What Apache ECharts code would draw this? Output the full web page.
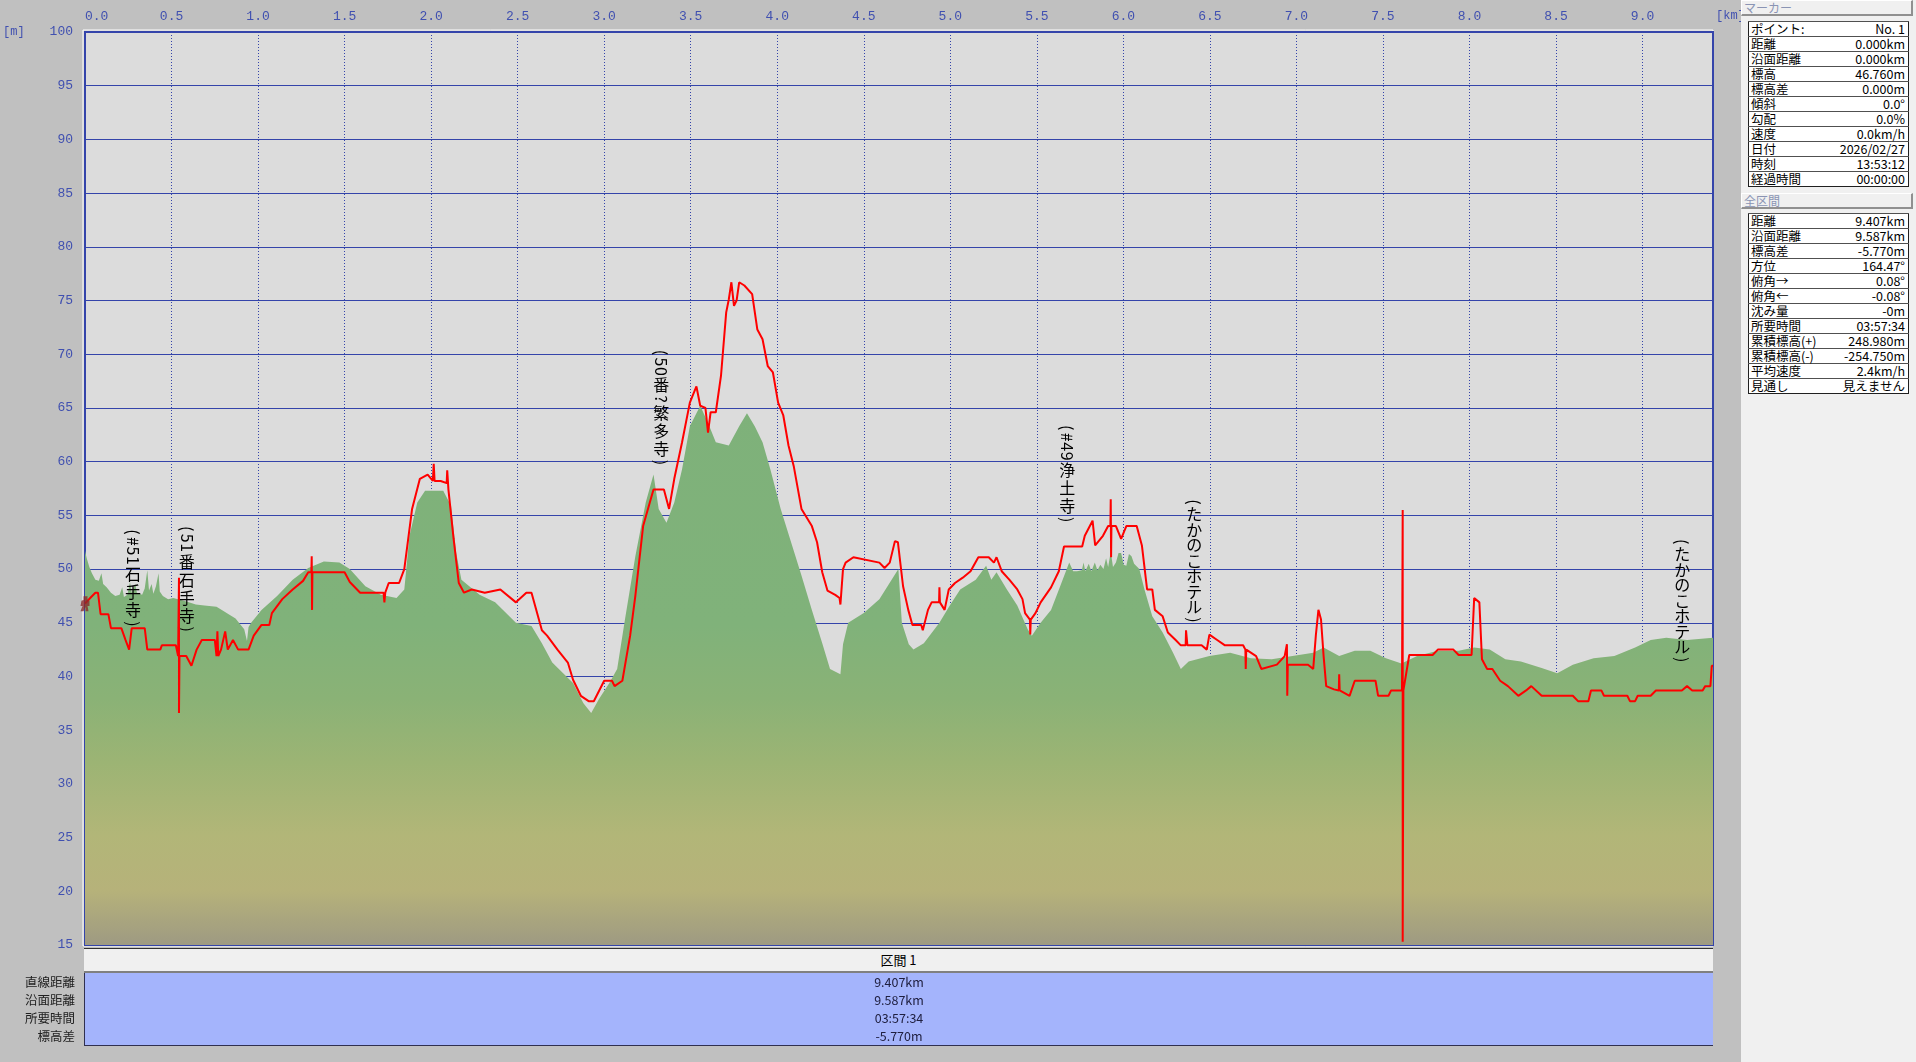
<!DOCTYPE html>
<html><head><meta charset="utf-8">
<script src="https://cdn.jsdelivr.net/npm/echarts@6/dist/echarts.min.js"></script>
<style>
html,body{margin:0;padding:0;width:1916px;height:1062px;overflow:hidden;background:#c0c0c0;font-family:"Noto Sans CJK JP",sans-serif;}
#chart{position:absolute;left:0;top:0;width:1916px;height:1062px;}
.abs{position:absolute;box-sizing:border-box;}
#panel{left:1741px;top:0;width:175px;height:1062px;background:#f0f0f0;}
.hdr{left:1741px;width:172px;height:16px;background:#f0f0f0;border-left:1px solid #fff;border-top:1px solid #fff;border-right:2px solid #909090;border-bottom:2px solid #909090;color:#8a94b4;font-size:12px;line-height:13px;padding-left:2px;}
table.info{position:absolute;left:1748px;width:161px;border-collapse:collapse;border:1px solid #202020;font-size:12.5px;background:#fff;}
table.info td{height:14px;padding:0 3px 0 2px;line-height:14px;border-top:1px solid #505050;white-space:nowrap;color:#000;}
table.info td.v{text-align:right;}
#bhdr{left:84px;top:948px;width:1629px;height:25px;background:#f0f0f0;border-top:1px solid #303030;border-bottom:2px solid #808080;text-align:center;font-size:13px;line-height:22px;color:#000;}
#bbody{left:84px;top:973px;width:1629px;height:73px;background:#a4b4fc;border-left:1px solid #303050;border-bottom:1px solid #303050;}
.brow{position:absolute;left:0;width:100%;height:18px;line-height:18px;text-align:center;font-size:12.5px;color:#202040;}
.lrow{position:absolute;left:0;width:75px;height:18px;line-height:18px;text-align:right;font-size:12.5px;color:#202020;}
</style>
</head><body>
<div id="chart"></div>
<div id="panel" class="abs"></div>
<div class="abs hdr" style="top:0px;">マーカー</div>
<table class="info" id="t1" style="top:21px;"></table>
<div class="abs hdr" style="top:193px;">全区間</div>
<table class="info" id="t2" style="top:213px;"></table>
<div id="bhdr" class="abs">区間 1</div>
<div id="bbody" class="abs"></div>
<div id="blabels"></div>
<script>
// ---- data ----
const xTicks = [0, 0.5, 1.0, 1.5, 2.0, 2.5, 3.0, 3.5, 4.0, 4.5, 5.0, 5.5, 6.0, 6.5, 7.0, 7.5, 8.0, 8.5, 9.0];
const xMaxKm = 9.407;
const yMin = 15, yMax = 100, yStep = 5;

// terrain (DEM) profile [km, m]
const terrainPoints = [[0.000,51.7],[0.010,51.0],[0.025,50.2],[0.040,49.6],[0.060,49.0],[0.080,48.9],[0.095,49.6],[0.105,48.6],[0.125,48.3],[0.150,47.8],[0.175,47.5],[0.200,47.6],[0.215,48.3],[0.225,47.4],[0.245,47.6],[0.260,48.8],[0.270,47.8],[0.290,48.6],[0.300,47.8],[0.330,47.6],[0.345,48.2],[0.360,49.9],[0.370,48.0],[0.385,48.6],[0.395,47.7],[0.410,48.4],[0.425,49.6],[0.432,47.9],[0.450,47.5],[0.480,47.2],[0.510,47.3],[0.560,47.1],[0.600,46.9],[0.640,46.7],[0.690,46.6],[0.760,46.5],[0.800,46.1],[0.830,45.8],[0.870,45.4],[0.900,44.8],[0.920,44.4],[0.936,43.3],[0.945,44.6],[0.960,45.0],[1.020,46.2],[1.110,47.5],[1.200,49.0],[1.290,50.1],[1.380,50.7],[1.470,50.6],[1.530,50.0],[1.620,48.4],[1.710,47.6],[1.800,47.3],[1.845,48.1],[1.875,53.1],[1.920,56.2],[1.965,57.3],[2.070,57.3],[2.115,55.9],[2.145,51.5],[2.175,49.0],[2.280,47.6],[2.370,46.9],[2.490,45.0],[2.580,44.7],[2.640,43.1],[2.700,41.3],[2.820,39.4],[2.880,37.5],[2.925,36.6],[2.970,37.9],[3.030,39.4],[3.075,40.7],[3.120,45.3],[3.180,51.2],[3.240,56.2],[3.285,58.8],[3.315,55.6],[3.360,54.3],[3.405,56.2],[3.450,59.3],[3.495,63.3],[3.555,65.2],[3.600,63.6],[3.645,61.8],[3.720,61.5],[3.780,63.3],[3.825,64.5],[3.870,63.3],[3.915,61.8],[3.960,59.3],[4.020,55.6],[4.080,52.5],[4.140,49.4],[4.200,46.2],[4.260,43.1],[4.305,40.7],[4.365,40.2],[4.380,43.0],[4.410,45.0],[4.500,45.9],[4.590,47.2],[4.680,49.5],[4.700,50.0],[4.720,45.0],[4.760,43.0],[4.787,42.5],[4.847,43.1],[4.937,45.0],[4.997,46.6],[5.057,48.1],[5.147,49.0],[5.207,50.3],[5.237,49.0],[5.267,49.7],[5.327,48.1],[5.387,46.6],[5.447,44.4],[5.471,43.8],[5.522,45.0],[5.582,46.2],[5.642,48.7],[5.687,50.6],[5.710,49.8],[5.732,49.8],[5.760,49.9],[5.770,50.6],[5.780,49.8],[5.800,50.5],[5.815,49.8],[5.835,50.6],[5.850,49.9],[5.867,50.4],[5.885,50.0],[5.900,51.0],[5.912,50.2],[5.927,51.6],[5.940,50.2],[5.957,50.6],[5.972,51.5],[5.987,51.5],[6.002,50.4],[6.017,50.3],[6.032,51.4],[6.047,51.2],[6.062,50.5],[6.092,50.0],[6.122,48.1],[6.167,45.6],[6.227,44.1],[6.287,42.2],[6.332,40.7],[6.377,41.4],[6.497,41.9],[6.617,42.2],[6.737,41.7],[6.857,41.6],[6.977,41.9],[7.097,42.2],[7.157,42.7],[7.247,41.9],[7.337,42.4],[7.427,42.4],[7.517,41.7],[7.607,41.2],[7.697,41.9],[7.817,42.4],[7.937,42.4],[8.027,42.7],[8.117,42.5],[8.207,41.6],[8.297,41.4],[8.417,40.8],[8.507,40.3],[8.597,41.1],[8.717,41.7],[8.837,41.9],[8.957,42.7],[9.047,43.4],[9.137,43.6],[9.257,43.4],[9.407,43.6]];

// GPS track elevation [km, m]
const trackPoints = [[0.000,46.8],[0.030,47.3],[0.060,47.8],[0.075,47.8],[0.090,45.8],[0.135,45.8],[0.150,44.5],[0.210,44.5],[0.234,43.4],[0.255,42.5],[0.270,44.5],[0.345,44.5],[0.360,42.5],[0.435,42.5],[0.444,42.9],[0.525,42.9],[0.538,41.9],[0.543,49.2],[0.543,36.6],[0.546,41.9],[0.585,41.9],[0.615,41.0],[0.645,42.5],[0.675,43.4],[0.750,43.4],[0.760,41.9],[0.765,44.2],[0.770,41.9],[0.786,42.5],[0.810,44.2],[0.825,42.5],[0.855,43.4],[0.885,42.5],[0.945,42.5],[0.975,43.8],[1.020,44.8],[1.065,44.8],[1.080,45.9],[1.140,47.2],[1.200,48.1],[1.260,48.9],[1.290,49.7],[1.308,49.7],[1.310,51.2],[1.312,46.2],[1.314,49.7],[1.500,49.7],[1.530,48.8],[1.590,47.8],[1.725,47.8],[1.730,46.9],[1.735,47.8],[1.755,48.7],[1.815,48.7],[1.845,50.0],[1.890,55.6],[1.935,58.4],[1.980,58.8],[2.010,58.2],[2.015,59.8],[2.020,58.2],[2.055,58.2],[2.090,58.0],[2.093,59.2],[2.100,57.4],[2.130,52.8],[2.160,48.7],[2.190,47.8],[2.235,48.1],[2.310,47.8],[2.400,48.1],[2.490,46.9],[2.550,47.8],[2.580,47.8],[2.640,44.3],[2.670,43.8],[2.730,42.5],[2.790,41.3],[2.820,39.7],[2.865,38.2],[2.910,37.7],[2.940,37.7],[3.000,39.6],[3.045,39.6],[3.060,39.1],[3.105,39.6],[3.150,43.8],[3.180,47.5],[3.225,54.0],[3.285,57.4],[3.345,57.4],[3.375,55.6],[3.405,58.4],[3.450,61.8],[3.495,65.5],[3.510,66.1],[3.533,67.0],[3.555,65.2],[3.585,65.0],[3.600,62.7],[3.615,64.6],[3.645,64.6],[3.675,68.0],[3.705,73.9],[3.720,75.1],[3.735,76.7],[3.750,74.5],[3.765,75.0],[3.780,76.7],[3.810,76.4],[3.855,75.6],[3.885,72.3],[3.915,71.4],[3.945,68.9],[3.975,68.3],[4.005,65.5],[4.035,64.3],[4.065,61.5],[4.095,59.6],[4.140,55.6],[4.200,54.0],[4.230,52.5],[4.260,49.7],[4.290,48.0],[4.335,47.6],[4.360,47.3],[4.365,46.7],[4.380,50.0],[4.395,50.6],[4.440,51.1],[4.590,50.6],[4.620,50.1],[4.650,50.6],[4.680,52.6],[4.697,52.5],[4.727,48.4],[4.757,46.2],[4.781,44.8],[4.832,44.8],[4.841,44.3],[4.871,46.2],[4.892,46.9],[4.935,46.9],[4.937,48.3],[4.940,46.9],[4.967,46.2],[4.991,48.1],[5.027,48.7],[5.072,49.2],[5.117,49.8],[5.162,51.1],[5.222,51.1],[5.252,50.6],[5.267,51.1],[5.297,49.8],[5.342,49.0],[5.387,48.1],[5.417,47.2],[5.432,45.9],[5.460,45.3],[5.462,43.9],[5.465,45.3],[5.492,45.9],[5.522,46.9],[5.582,48.3],[5.627,49.8],[5.657,52.1],[5.762,52.1],[5.777,53.1],[5.822,54.5],[5.837,52.2],[5.882,53.1],[5.912,54.0],[5.925,54.0],[5.927,56.5],[5.929,51.1],[5.931,54.0],[5.957,54.0],[5.987,52.8],[6.017,54.0],[6.077,54.0],[6.107,52.2],[6.137,48.1],[6.167,48.1],[6.182,46.2],[6.227,45.6],[6.257,44.1],[6.302,43.4],[6.332,42.9],[6.360,42.9],[6.362,44.3],[6.370,42.9],[6.452,42.9],[6.482,42.5],[6.497,43.9],[6.542,43.4],[6.587,42.9],[6.692,42.9],[6.705,42.5],[6.707,40.7],[6.710,42.5],[6.767,41.9],[6.797,40.7],[6.887,41.1],[6.932,41.9],[6.945,43.0],[6.947,38.2],[6.950,41.1],[6.977,41.1],[7.067,41.1],[7.097,40.7],[7.112,43.8],[7.127,46.2],[7.142,45.3],[7.157,41.9],[7.172,39.1],[7.217,38.8],[7.245,38.7],[7.247,40.2],[7.250,38.7],[7.307,38.2],[7.337,39.6],[7.457,39.6],[7.472,38.2],[7.532,38.2],[7.547,38.7],[7.610,38.7],[7.614,55.5],[7.614,15.3],[7.618,38.7],[7.652,42.0],[7.787,42.0],[7.817,42.5],[7.907,42.5],[7.937,42.0],[8.012,42.0],[8.027,47.3],[8.057,46.9],[8.072,41.6],[8.102,40.7],[8.132,40.7],[8.177,39.6],[8.222,39.1],[8.282,38.2],[8.327,38.7],[8.357,39.1],[8.417,38.2],[8.597,38.2],[8.627,37.7],[8.687,37.7],[8.702,38.7],[8.762,38.7],[8.777,38.2],[8.912,38.2],[8.927,37.7],[8.957,37.7],[8.972,38.2],[9.047,38.2],[9.077,38.7],[9.227,38.7],[9.257,39.1],[9.287,38.7],[9.347,38.7],[9.362,39.1],[9.392,39.1],[9.400,41.0],[9.407,41.0]];

// waypoint annotations
const annoKm   = [0.277, 0.588, 3.33, 5.675, 6.41, 9.23];
const annoTopM = [53.9, 54.2, 70.6, 63.6, 56.7, 53.0];
const annoText = ['(#51石手寺)', '(51番石手寺)', '(50番?繁多寺)', '(#49浄土寺)', '(たかのこホテル)', '(たかのこホテル)'];

// marker position (point No.1)
const markerKm = [0.0];
const markerM = [46.76];

// side panel tables
const markerLabels = ['ポイント:', '距離', '沿面距離', '標高', '標高差', '傾斜', '勾配', '速度', '日付', '時刻', '経過時間'];
const markerValues = ['No. 1', '0.000km', '0.000km', '46.760m', '0.000m', '0.0°', '0.0%', '0.0km/h', '2026/02/27', '13:53:12', '00:00:00'];
const totalLabels = ['距離', '沿面距離', '標高差', '方位', '俯角→', '俯角←', '沈み量', '所要時間', '累積標高(+)', '累積標高(-)', '平均速度', '見通し'];
const totalValues = ['9.407km', '9.587km', '-5.770m', '164.47°', '0.08°', '-0.08°', '-0m', '03:57:34', '248.980m', '-254.750m', '2.4km/h', '見えません'];

// bottom section table
const sectionTitle = '区間 1';
const sectionLabels = ['直線距離', '沿面距離', '所要時間', '標高差'];
const sectionValues = ['9.407km', '9.587km', '03:57:34', '-5.770m'];

// ---- HTML tables ----
function fillTable(id, labels, values) {
  const t = document.getElementById(id);
  t.innerHTML = labels.map((l, i) => '<tr><td>' + l + '</td><td class="v">' + values[i] + '</td></tr>').join('');
}
fillTable('t1', markerLabels, markerValues);
fillTable('t2', totalLabels, totalValues);
const bb = document.getElementById('bbody');
bb.innerHTML = sectionValues.map((v, i) => '<div class="brow" style="top:' + (i * 18) + 'px">' + v + '</div>').join('');
const bl = document.getElementById('blabels');
bl.innerHTML = sectionLabels.map((v, i) => '<div class="lrow" style="top:' + (973 + i * 18) + 'px">' + v + '</div>').join('');
document.getElementById('bhdr').textContent = sectionTitle;

// ---- chart ----
const chart = echarts.init(document.getElementById('chart'), null, { renderer: 'canvas' });
const blue = '#3444aa';
const labelBlue = '#4050b0';
const GL = 85, GT = 32, GR = 1713, GB = 945;

const areaGrad = new echarts.graphic.LinearGradient(0, GT, 0, GB, [
  { offset: 0.0, color: '#7bb07a' },
  { offset: 0.65, color: '#80b27a' },
  { offset: 0.73, color: '#8ab276' },
  { offset: 0.80, color: '#9cb474' },
  { offset: 0.88, color: '#b2b678' },
  { offset: 0.94, color: '#b6b27a' },
  { offset: 1.0, color: '#9e9a82' }
], true);

function renderAnno(params, api) {
  const i = params.dataIndex;
  const p = api.coord([api.value(0), api.value(1)]);
  const text = annoText[i];
  let y = p[1];
  const children = [];
  for (const ch of text) {
    const half = /[\x20-\x7e]/.test(ch);
    const kana = /[\u3040-\u30ff]/.test(ch);
    const adv = half ? 9.5 : (kana ? 15.5 : 18);
    children.push({
      type: 'text',
      x: p[0], y: y + adv / 2,
      rotation: half ? -Math.PI / 2 : 0,
      style: { text: ch, fill: '#000', font: '16px "Noto Sans CJK JP"', align: 'center', verticalAlign: 'middle' }
    });
    y += adv;
  }
  return { type: 'group', children };
}

chart.setOption({
  animation: false,
  backgroundColor: '#c0c0c0',
  grid: { left: GL, top: GT, right: 1916 - GR, bottom: 1062 - GB, show: true, backgroundColor: '#dcdcdc', borderColor: blue, borderWidth: 2 },
  xAxis: {
    type: 'value', position: 'top', min: 0, max: xMaxKm, interval: 0.5,
    axisLine: { show: false }, axisTick: { show: false },
    axisLabel: { color: labelBlue, fontSize: 13, fontFamily: 'Liberation Mono', margin: 9, showMaxLabel: false, alignMinLabel: 'left',
      formatter: v => xTicks.some(t => Math.abs(t - v) < 1e-6) ? v.toFixed(1) : '' },
    splitLine: { show: true, lineStyle: { color: blue, width: 1, type: [1, 2] } }
  },
  yAxis: {
    type: 'value', min: yMin, max: yMax, interval: yStep,
    axisLine: { show: false }, axisTick: { show: false },
    axisLabel: { color: labelBlue, fontSize: 13, fontFamily: 'Liberation Mono', margin: 12 },
    splitLine: { show: true, lineStyle: { color: blue, width: 1.2 } }
  },
  graphic: [
    { type: 'text', left: 3, top: 26, style: { text: '[m]', fill: labelBlue, font: '12px "Liberation Mono"' } },
    { type: 'text', left: 1716, top: 10, style: { text: '[km]', fill: labelBlue, font: '12px "Liberation Mono"' } },
    { type: 'rect', shape: { x: GL - 2, y: GT - 2, width: GR - GL + 2, height: GB - GT + 3 }, style: { fill: 'none', stroke: '#ffffff', lineWidth: 1 }, z: -1 }
  ],
  series: [
    {
      type: 'line', name: 'terrain', data: terrainPoints, symbol: 'none', silent: true,
      lineStyle: { width: 0 }, areaStyle: { color: areaGrad, opacity: 1, origin: 'start' }, z: 1
    },
    {
      type: 'custom', name: 'labels', data: annoKm.map((k, i) => [k, annoTopM[i]]),
      renderItem: renderAnno, clip: false, silent: true, z: 3
    },
    {
      type: 'line', name: 'track', data: trackPoints, symbol: 'none', silent: true,
      lineStyle: { color: '#ff0000', width: 2 }, z: 4
    },
    {
      type: 'scatter', name: 'marker', data: markerKm.map((k, i) => [k, markerM[i]]), silent: true,
      symbol: 'path://M4,0 L8,0 L8,4 L10,5 L10,11 L8,11 L9,17 L6,17 L6,12 L4,17 L1,17 L3,11 L1,11 L2,5 L4,4 Z',
      symbolSize: [9, 15], itemStyle: { color: '#8a2a2a' }, z: 5
    }
  ]
});
</script>
</body></html>
